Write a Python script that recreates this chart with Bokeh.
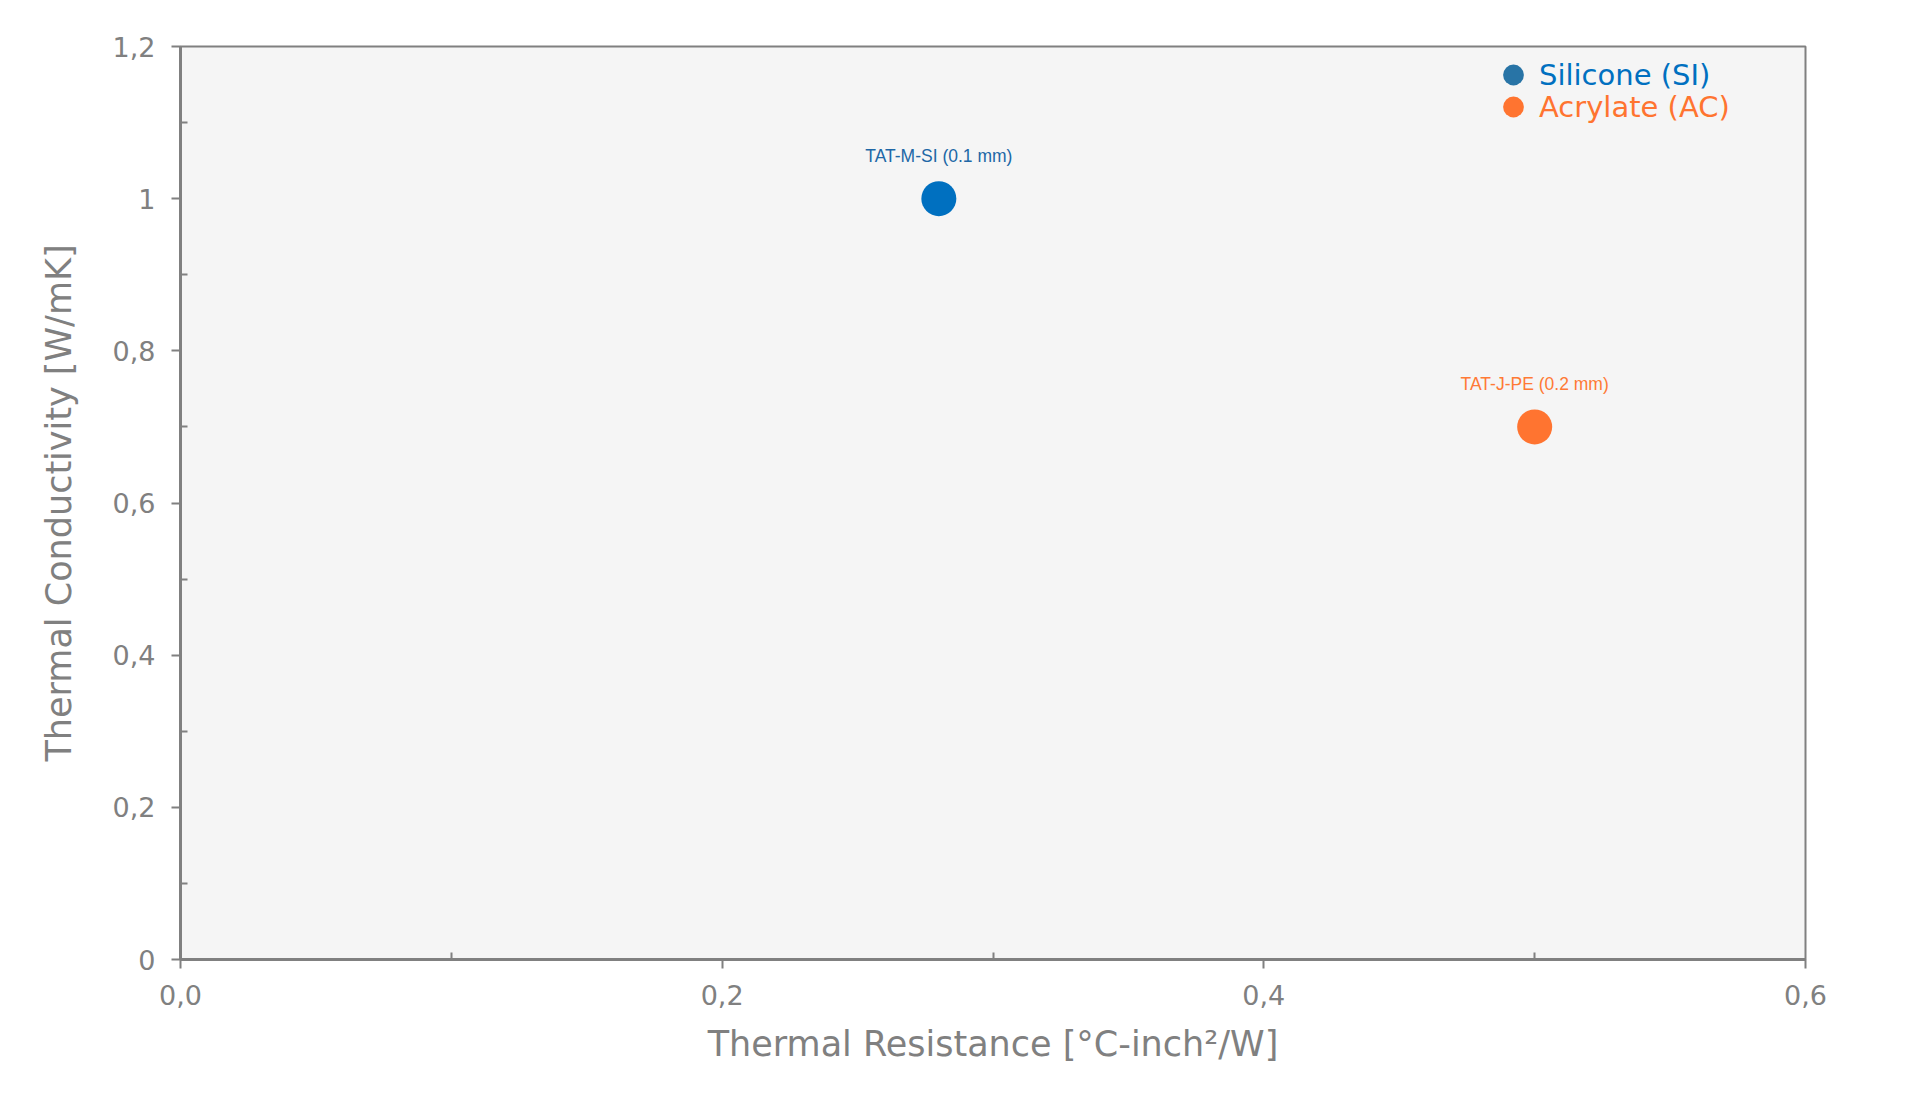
from bokeh.plotting import figure
from bokeh.models import (ColumnDataSource, LabelSet, Legend, LegendItem,
                          FixedTicker, Range1d)
from bokeh.core.properties import value
from bokeh.embed import file_html
from bokeh.resources import INLINE

# ---- data ----
series = ["Silicone (SI)", "Acrylate (AC)"]
products = ["TAT-M-SI (0.1 mm)", "TAT-J-PE (0.2 mm)"]
thermal_resistance = [0.28, 0.5]
thermal_conductivity = [1.0, 0.7]
point_colors = ["#0070C0", "#FF7430"]
label_colors = ["#2067A6", "#FF7A35"]
legend_glyph_colors = ["#2874A6", "#FF7430"]
legend_text_colors = ["#0070C0", "#FF7430"]

x_ticks = [0.0, 0.2, 0.4, 0.6]
x_tick_labels = ["0,0", "0,2", "0,4", "0,6"]
x_minor = [0.1, 0.3, 0.5]
y_ticks = [0.0, 0.2, 0.4, 0.6, 0.8, 1.0, 1.2]
y_tick_labels = ["0", "0,2", "0,4", "0,6", "0,8", "1", "1,2"]
y_minor = [0.1, 0.3, 0.5, 0.7, 0.9, 1.1]

x_title = "Thermal Resistance [°C-inch²/W]"
y_title = "Thermal Conductivity [W/mK]"

GRAY = "#808080"
FONT = "DejaVu Sans"

p = figure(width=1900, height=1085, output_backend="svg", toolbar_location=None,
           x_range=Range1d(0, 0.6), y_range=Range1d(0, 1.2),
           min_border_left=180, min_border_top=46, min_border_right=95,
           min_border_bottom=126)
p.background_fill_color = "#F5F5F5"
p.border_fill_color = "white"
p.outline_line_color = GRAY
p.outline_line_width = 2
p.grid.visible = False

p.xaxis.ticker = FixedTicker(ticks=x_ticks, minor_ticks=x_minor)
p.yaxis.ticker = FixedTicker(ticks=y_ticks, minor_ticks=y_minor)
p.xaxis.major_label_overrides = dict(zip(x_ticks, x_tick_labels))
p.yaxis.major_label_overrides = dict(zip(y_ticks, y_tick_labels))

for ax in (p.xaxis, p.yaxis):
    ax.axis_line_color = GRAY
    ax.axis_line_width = 3
    ax.major_tick_line_color = GRAY
    ax.major_tick_line_width = 2
    ax.minor_tick_line_color = GRAY
    ax.minor_tick_line_width = 2
    ax.major_tick_out = 9
    ax.major_tick_in = 0
    ax.minor_tick_out = 0
    ax.minor_tick_in = 7
    ax.major_label_text_color = GRAY
    ax.major_label_text_font = FONT
    ax.major_label_text_font_size = "27px"
    ax.axis_label_text_color = GRAY
    ax.axis_label_text_font = FONT
    ax.axis_label_text_font_size = "35px"
    ax.axis_label_text_font_style = "normal"

p.xaxis.axis_label = x_title
p.yaxis.axis_label = y_title
p.xaxis.major_label_standoff = 16
p.yaxis.major_label_standoff = 16
p.xaxis.axis_label_standoff = 16
p.yaxis.axis_label_standoff = 31

src = ColumnDataSource(dict(x=thermal_resistance, y=thermal_conductivity,
                            name=products, color=point_colors,
                            lcolor=label_colors))

p.scatter(x="x", y="y", source=src, size=35, marker="circle",
          fill_color="color", line_color="color", line_width=0)

labels = LabelSet(x="x", y="y", text="name", source=src, text_color="lcolor",
                  text_align="center", text_baseline="alphabetic", y_offset=37,
                  text_font=value("'Liberation Sans Narrow', 'Liberation Sans'"),
                  text_font_size="17.5px")
p.add_layout(labels)

# legend: one Legend per entry so each can carry its own text colour;
# the helper renderers are hidden, their glyphs are only drawn in the legend
legend_y = [856, 824]
for i in range(len(series)):
    lr = p.scatter(x=[thermal_resistance[i]], y=[thermal_conductivity[i]],
                   marker="circle", size=22,
                   fill_color=legend_glyph_colors[i],
                   line_color=legend_glyph_colors[i], line_width=0,
                   visible=False)
    leg = Legend(items=[LegendItem(label=series[i], renderers=[lr])],
                 location=(1307, legend_y[i]), orientation="vertical",
                 glyph_width=52, glyph_height=57, label_standoff=0,
                 padding=0, margin=0, spacing=0,
                 border_line_color=None, background_fill_alpha=0,
                 inactive_fill_alpha=0,
                 label_text_color=legend_text_colors[i],
                 label_text_font=FONT, label_text_font_size="29px",
                 label_text_baseline="middle")
    p.add_layout(leg, "center")

open("out.html", "w").write(file_html(p, INLINE))
